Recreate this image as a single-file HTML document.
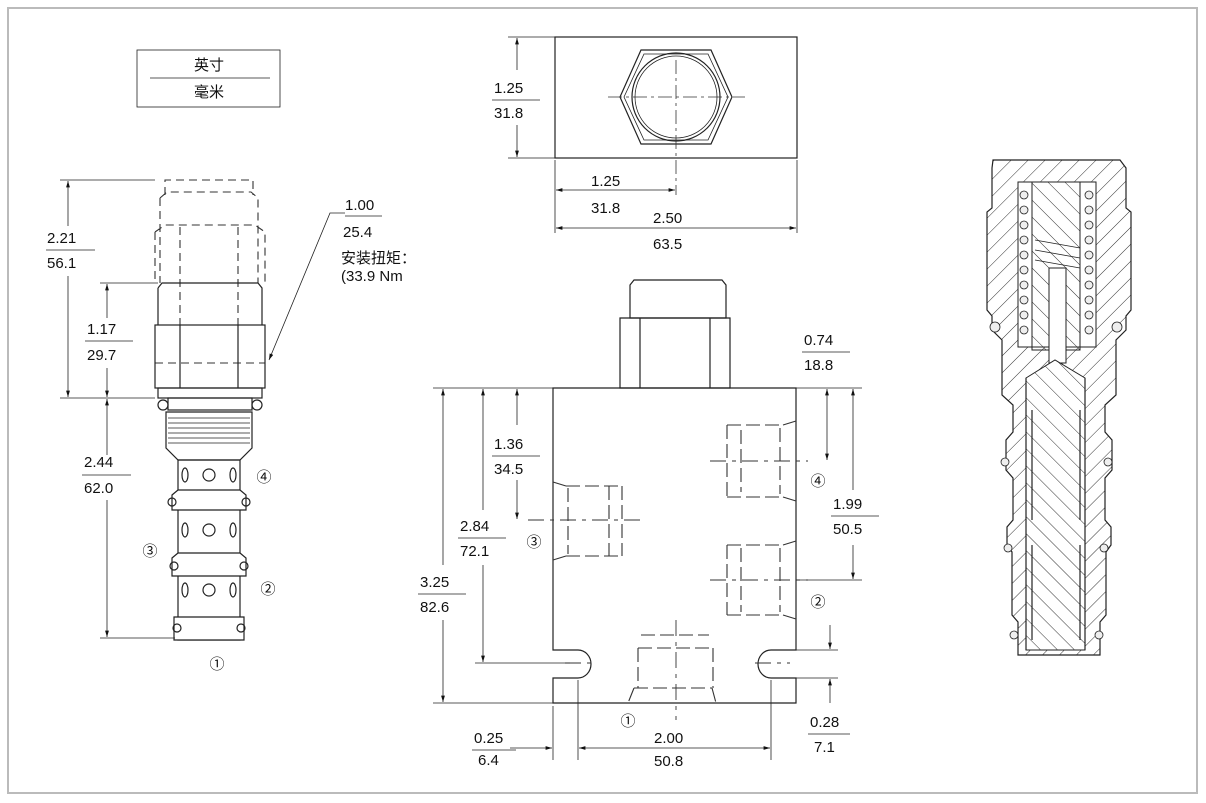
<!DOCTYPE html>
<html><head><meta charset="utf-8"><style>
body{margin:0;background:#fff}
svg{display:block}
text{font-family:"Liberation Sans","Noto Sans CJK SC",sans-serif;font-size:15px;fill:#111}
.l{stroke:#222;stroke-width:1.2;fill:none}
.t{stroke:#222;stroke-width:0.8;fill:none}
.d{stroke:#333;stroke-width:1.1;fill:none;stroke-dasharray:8 5}
.w{fill:#fff;stroke:#222;stroke-width:1.2}
</style></head><body>
<svg width="1206" height="803" viewBox="0 0 1206 803" xmlns="http://www.w3.org/2000/svg">
<defs>
<marker id="a" viewBox="0 0 10 10" refX="10" refY="5" markerWidth="8" markerHeight="8" orient="auto-start-reverse"><path d="M0,2 L10,5 L0,8z" fill="#111"/></marker>
<pattern id="h" width="12" height="12" patternUnits="userSpaceOnUse" patternTransform="rotate(45)"><line x1="0" y1="0" x2="0" y2="12" stroke="#333" stroke-width="1"/></pattern>
<pattern id="h2" width="12" height="12" patternUnits="userSpaceOnUse" patternTransform="rotate(-45)"><line x1="0" y1="0" x2="0" y2="12" stroke="#333" stroke-width="1"/></pattern>
</defs>
<rect x="8" y="8" width="1189" height="785" fill="none" stroke="#bbb" stroke-width="2"/>

<!-- unit box -->
<rect x="137" y="50" width="143" height="57" class="t"/>
<text x="209" y="70" text-anchor="middle">英寸</text>
<line x1="150" y1="78" x2="270" y2="78" class="t"/>
<text x="209" y="97" text-anchor="middle">毫米</text>

<!-- left cartridge -->
<path class="d" d="M165,195 V180 H253 V195 M160,198 L167,192 H251 L258,198 V283 M160,198 V283 M155,232 L165,225 H255 L265,232 V283 M155,232 V283 M180,227 V325 M238,227 V325 M155,363 H265"/>
<path class="l" d="M158,288 L162,283 H258 L262,288 V325 M158,288 V325"/>
<rect x="155" y="325" width="110" height="63" class="l"/>
<line x1="180" y1="325" x2="180" y2="388" class="l"/><line x1="238" y1="325" x2="238" y2="388" class="l"/>
<rect x="158" y="388" width="104" height="10" class="l"/>
<circle cx="163" cy="405" r="5" class="l"/><circle cx="257" cy="405" r="5" class="l"/>
<rect x="168" y="398" width="84" height="12" class="l"/>
<path class="l" d="M166,412 H252 V448 L240,460 H178 L166,448 Z"/>
<g class="t"><line x1="168" y1="418" x2="250" y2="418"/><line x1="168" y1="423" x2="250" y2="423"/><line x1="168" y1="428" x2="250" y2="428"/><line x1="168" y1="433" x2="250" y2="433"/><line x1="168" y1="438" x2="250" y2="438"/><line x1="168" y1="443" x2="250" y2="443"/></g>
<rect x="178" y="460" width="62" height="180" class="l"/>
<g class="w"><path d="M172,495 L178,490 H240 L246,495 V510 H172Z"/><path d="M172,558 L178,553 H240 L246,558 V576 H172Z"/><path d="M174,617 H244 V640 H174Z"/></g>
<g class="l"><ellipse cx="185" cy="475" rx="3" ry="7"/><circle cx="209" cy="475" r="6"/><ellipse cx="233" cy="475" rx="3" ry="7"/>
<ellipse cx="185" cy="530" rx="3" ry="7"/><circle cx="209" cy="530" r="6"/><ellipse cx="233" cy="530" rx="3" ry="7"/>
<ellipse cx="185" cy="590" rx="3" ry="7"/><circle cx="209" cy="590" r="6"/><ellipse cx="233" cy="590" rx="3" ry="7"/>
<circle cx="172" cy="502" r="4"/><circle cx="246" cy="502" r="4"/><circle cx="174" cy="566" r="4"/><circle cx="244" cy="566" r="4"/><circle cx="177" cy="628" r="4"/><circle cx="241" cy="628" r="4"/></g>
<!-- left dims -->
<g class="t"><line x1="60" y1="180" x2="155" y2="180"/><line x1="100" y1="283" x2="158" y2="283"/><line x1="60" y1="398" x2="155" y2="398"/><line x1="100" y1="638" x2="175" y2="638"/></g>
<line x1="68" y1="226" x2="68" y2="181" class="t" marker-end="url(#a)"/><line x1="68" y1="276" x2="68" y2="397" class="t" marker-end="url(#a)"/>
<line x1="107" y1="318" x2="107" y2="284" class="t" marker-end="url(#a)"/><line x1="107" y1="368" x2="107" y2="397" class="t" marker-end="url(#a)"/>
<line x1="107" y1="455" x2="107" y2="399" class="t" marker-end="url(#a)"/><line x1="107" y1="500" x2="107" y2="637" class="t" marker-end="url(#a)"/>
<text x="47" y="243">2.21</text><line x1="46" y1="250" x2="95" y2="250" class="t"/><text x="47" y="268">56.1</text>
<text x="87" y="334">1.17</text><line x1="85" y1="341" x2="133" y2="341" class="t"/><text x="87" y="360">29.7</text>
<text x="84" y="467">2.44</text><line x1="82" y1="475" x2="131" y2="475" class="t"/><text x="84" y="493">62.0</text>
<path d="M345,213 H330 L269,360" class="t" marker-end="url(#a)"/>
<text x="345" y="210">1.00</text><line x1="345" y1="216" x2="382" y2="216" class="t"/><text x="343" y="237">25.4</text>
<text x="341" y="263">安装扭矩：</text><text x="341" y="281">(33.9 Nm</text>
<text x="264" y="482" text-anchor="middle">④</text><text x="268" y="594" text-anchor="middle">②</text><text x="150" y="556" text-anchor="middle">③</text><text x="217" y="669" text-anchor="middle">①</text>

<!-- top view -->
<rect x="555" y="37" width="242" height="121" class="l"/>
<path class="l" d="M620,97 L641,50 H711 L732,97 L711,144 H641 Z"/>
<path class="t" d="M624,97 L644,54 H708 L728,97 L708,140 H644 Z"/>
<circle cx="676" cy="97" r="44" class="l"/><circle cx="676" cy="97" r="41" class="t"/>
<path d="M608,97 H745 M676,60 V195" stroke="#333" stroke-width="0.8" stroke-dasharray="14 4 3 4"/>
<g class="t"><line x1="508" y1="37" x2="555" y2="37"/><line x1="508" y1="158" x2="555" y2="158"/><line x1="555" y1="160" x2="555" y2="233"/><line x1="797" y1="160" x2="797" y2="233"/></g>
<line x1="517" y1="70" x2="517" y2="38" class="t" marker-end="url(#a)"/><line x1="517" y1="125" x2="517" y2="157" class="t" marker-end="url(#a)"/>
<text x="494" y="93">1.25</text><line x1="492" y1="100" x2="540" y2="100" class="t"/><text x="494" y="118">31.8</text>
<line x1="556" y1="190" x2="675" y2="190" class="t" marker-start="url(#a)" marker-end="url(#a)"/>
<text x="591" y="186">1.25</text><text x="591" y="213">31.8</text>
<line x1="556" y1="228" x2="796" y2="228" class="t" marker-start="url(#a)" marker-end="url(#a)"/>
<text x="653" y="223">2.50</text><text x="653" y="249">63.5</text>

<!-- front view -->
<path class="l" d="M630,285 L634,280 H722 L726,285 V318 H630Z"/>
<path class="l" d="M620,318 H730 V388 H620Z M640,318 V388 M710,318 V388"/>
<path class="l" d="M553,388 H796 V650 H771 A13,14 0 0 0 771,678 H796 V703 H553 V678 H578 A13,14 0 0 0 578,650 H553 Z"/>
<g class="d" style="stroke-dasharray:14 5">
<path d="M727,425 H783 M727,497 H783 M741,430 V492 M727,425 V497 M780,428 V494 M783,425 L796,421 M783,497 L796,501"/>
<path d="M727,545 H783 M727,615 H783 M741,548 V612 M727,545 V615 M780,548 V612 M783,545 L796,541 M783,615 L796,619"/>
<path d="M566,486 H622 M566,556 H622 M609,486 V556 M622,486 V556 M568,488 V554 M566,486 L553,482 M566,556 L553,560"/>
<path d="M641,635 H709 M638,648 H713 M634,688 H712 M638,648 V688 M713,648 V688 M634,688 L628,703 M712,688 L716,703"/>
</g>
<path d="M710,461 H808 M710,580 H808 M528,520 H640 M676,620 V720 M565,663 H595 M755,663 H790" stroke="#333" stroke-width="0.9" stroke-dasharray="16 6 4 6"/>
<g class="t"><line x1="433" y1="388" x2="553" y2="388"/><line x1="433" y1="703" x2="553" y2="703"/><line x1="475" y1="663" x2="570" y2="663"/><line x1="796" y1="388" x2="862" y2="388"/><line x1="796" y1="580" x2="862" y2="580"/><line x1="796" y1="650" x2="838" y2="650"/><line x1="796" y1="678" x2="838" y2="678"/><line x1="553" y1="706" x2="553" y2="760"/><line x1="578" y1="680" x2="578" y2="760"/><line x1="771" y1="680" x2="771" y2="760"/></g>
<line x1="443" y1="565" x2="443" y2="389" class="t" marker-end="url(#a)"/><line x1="443" y1="620" x2="443" y2="702" class="t" marker-end="url(#a)"/>
<line x1="483" y1="510" x2="483" y2="389" class="t" marker-end="url(#a)"/><line x1="483" y1="565" x2="483" y2="662" class="t" marker-end="url(#a)"/>
<line x1="517" y1="425" x2="517" y2="389" class="t" marker-end="url(#a)"/><line x1="517" y1="480" x2="517" y2="519" class="t" marker-end="url(#a)"/>
<line x1="827" y1="389" x2="827" y2="460" class="t" marker-start="url(#a)" marker-end="url(#a)"/>
<line x1="853" y1="490" x2="853" y2="389" class="t" marker-end="url(#a)"/><line x1="853" y1="545" x2="853" y2="579" class="t" marker-end="url(#a)"/>
<line x1="830" y1="625" x2="830" y2="649" class="t" marker-end="url(#a)"/><line x1="830" y1="703" x2="830" y2="679" class="t" marker-end="url(#a)"/>
<line x1="510" y1="748" x2="552" y2="748" class="t" marker-end="url(#a)"/>
<line x1="579" y1="748" x2="770" y2="748" class="t" marker-start="url(#a)" marker-end="url(#a)"/>
<text x="420" y="587">3.25</text><line x1="418" y1="594" x2="466" y2="594" class="t"/><text x="420" y="612">82.6</text>
<text x="460" y="531">2.84</text><line x1="458" y1="538" x2="506" y2="538" class="t"/><text x="460" y="556">72.1</text>
<text x="494" y="449">1.36</text><line x1="492" y1="456" x2="540" y2="456" class="t"/><text x="494" y="474">34.5</text>
<text x="804" y="345">0.74</text><line x1="802" y1="352" x2="850" y2="352" class="t"/><text x="804" y="370">18.8</text>
<text x="833" y="509">1.99</text><line x1="831" y1="516" x2="879" y2="516" class="t"/><text x="833" y="534">50.5</text>
<text x="810" y="727">0.28</text><line x1="808" y1="734" x2="850" y2="734" class="t"/><text x="814" y="752">7.1</text>
<text x="474" y="743">0.25</text><line x1="472" y1="750" x2="516" y2="750" class="t"/><text x="478" y="765">6.4</text>
<text x="654" y="743">2.00</text><text x="654" y="766">50.8</text>
<text x="818" y="486" text-anchor="middle">④</text><text x="818" y="607" text-anchor="middle">②</text><text x="534" y="547" text-anchor="middle">③</text><text x="628" y="726" text-anchor="middle">①</text>

<!-- cross section -->
<path fill="url(#h)" stroke="#222" stroke-width="1.2" d="M993,160 H1120 L1126,168 V208 L1131,212 V310 L1126,316 V330 L1116,340 V395 L1105,405 V432 L1112,440 V470 L1105,478 V520 L1111,527 V545 L1106,552 V615 L1100,622 V655 H1018 V622 L1012,615 V552 L1007,545 V527 L1013,520 V478 L1006,470 V440 L1013,432 V405 L1002,395 V340 L992,330 V316 L987,310 V212 L992,208 V168 Z"/>
<rect x="1018" y="182" width="78" height="165" fill="#fff" stroke="#222"/>
<path fill="url(#h2)" stroke="#222" d="M1032,182 H1080 V350 H1032 Z"/>
<rect x="1049" y="268" width="17" height="95" fill="#fff" stroke="#222"/>
<g fill="#eee" stroke="#222" stroke-width="0.8">
<circle cx="1024" cy="195" r="4"/><circle cx="1024" cy="210" r="4"/><circle cx="1024" cy="225" r="4"/><circle cx="1024" cy="240" r="4"/><circle cx="1024" cy="255" r="4"/><circle cx="1024" cy="270" r="4"/><circle cx="1024" cy="285" r="4"/><circle cx="1024" cy="300" r="4"/><circle cx="1024" cy="315" r="4"/><circle cx="1024" cy="330" r="4"/>
<circle cx="1089" cy="195" r="4"/><circle cx="1089" cy="210" r="4"/><circle cx="1089" cy="225" r="4"/><circle cx="1089" cy="240" r="4"/><circle cx="1089" cy="255" r="4"/><circle cx="1089" cy="270" r="4"/><circle cx="1089" cy="285" r="4"/><circle cx="1089" cy="300" r="4"/><circle cx="1089" cy="315" r="4"/><circle cx="1089" cy="330" r="4"/>
<circle cx="995" cy="327" r="5"/><circle cx="1117" cy="327" r="5"/><circle cx="1005" cy="462" r="4"/><circle cx="1108" cy="462" r="4"/><circle cx="1008" cy="548" r="4"/><circle cx="1104" cy="548" r="4"/><circle cx="1014" cy="635" r="4"/><circle cx="1099" cy="635" r="4"/></g>
<path class="t" d="M1035,240 L1080,248 M1035,250 L1080,258 M1035,260 L1080,268"/>
<path fill="#fff" stroke="none" d="M1026,378 L1055,360 L1085,378 V650 H1026Z"/>
<path fill="url(#h2)" stroke="#222" d="M1026,378 L1055,360 L1085,378 V650 H1026Z"/>
<path class="l" d="M1026,378 V650 M1085,378 V650 M1032,410 V520 M1080,410 V520 M1032,545 V640 M1080,545 V640"/>
</svg>
</body></html>
